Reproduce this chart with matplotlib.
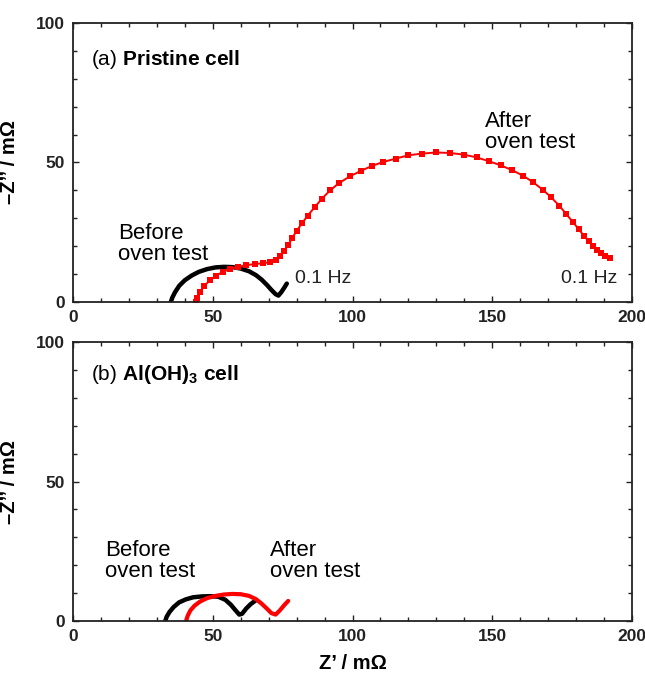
import matplotlib
matplotlib.use("Agg")
import matplotlib.pyplot as plt
from matplotlib.ticker import MultipleLocator

plt.rcParams['font.family'] = ['Liberation Sans', 'DejaVu Sans']
plt.rcParams['mathtext.fontset'] = 'custom'
plt.rcParams['mathtext.rm'] = 'Liberation Sans'
plt.rcParams['mathtext.bf'] = 'Liberation Sans:bold'
plt.rcParams['mathtext.it'] = 'Liberation Sans:italic'

# Panel (a) Pristine cell
before_a_x = [35, 35.5, 36.5, 38, 40, 42.5, 45, 48, 51, 54, 57, 60, 63, 65.5, 67.5, 69.5, 71, 72.5, 73.5, 74.5, 75.5, 76.5]
before_a_y = [0, 1.5, 3.5, 5.8, 7.8, 9.5, 10.8, 11.8, 12.4, 12.6, 12.5, 12, 11, 9.6, 8, 6, 4.3, 2.8, 2.3, 3.5, 5, 6.6]

after_a_x = [44, 44.5, 45.5, 47, 49, 51, 53.5, 56, 59, 62, 65, 68, 70.5, 72.5, 74, 75.5, 77, 78.5, 80, 82,
             84, 86.5, 89, 92, 95, 99, 103, 107, 111, 115.5, 120, 125, 130, 135, 140, 144.5, 149, 153, 157,
             161, 164.5, 168, 171, 174, 176.5, 179, 181, 183, 184.5, 186, 187.5, 189, 190.5, 192]
after_a_y = [0, 1.5, 3.5, 5.8, 7.8, 9.3, 10.8, 11.8, 12.6, 13.2, 13.6, 13.9, 14.3, 15.2, 16.5, 18.2, 20.5, 23, 25.5, 28.3,
             31, 34, 37, 40, 42.5, 45, 47, 48.8, 50.2, 51.4, 52.6, 53.2, 53.6, 53.4, 52.8, 51.8, 50.4, 49, 47.3,
             45.3, 43, 40.3, 37.6, 34.5, 31.5, 28.5, 26, 23.5, 21.7, 20, 18.8, 17.6, 16.6, 15.8]

# Panel (b) Al(OH)3 cell
before_b_x = [33, 33.5, 34.5, 36, 38, 40.5, 43, 46, 49, 52, 54.5, 56.5, 58, 59.5, 60.5, 62, 63.5, 65.5]
before_b_y = [0, 1.5, 3.2, 5, 6.7, 7.8, 8.5, 8.8, 8.9, 8.7, 7.6, 5.8, 4, 2.3, 2.6, 4.5, 6, 7.5]

after_b_x = [40.5, 41, 42, 43.5, 45.5, 48, 51, 54, 57, 60, 63, 65.5, 67.5, 69.5, 71, 72.5, 74, 75.5, 77]
after_b_y = [0, 1.8, 3.8, 5.5, 7, 8.2, 9, 9.5, 9.7, 9.6, 9, 7.8, 6.2, 4.3, 2.8, 2.3, 3.8, 5.6, 7.2]

x_ticks = [0, 50, 100, 150, 200]
y_ticks = [0, 50, 100]

W, H = 645, 673
fig = plt.figure(figsize=(W / 100, H / 100), dpi=100)

left = 73 / W
width = (632 - 73) / W
ah = (302 - 23) / H
ax_a = fig.add_axes([left, 1 - 302 / H, width, ah])
ax_b = fig.add_axes([left, 1 - 621 / H, width, ah])

tick_font = {'family': ['Liberation Sans'], 'weight': 'bold', 'size': 12.5}

for ax in (ax_a, ax_b):
    ax.set_xlim(0, 200)
    ax.set_ylim(0, 100)
    ax.set_xticks(x_ticks)
    ax.set_yticks(y_ticks)
    ax.xaxis.set_minor_locator(MultipleLocator(10))
    ax.yaxis.set_minor_locator(MultipleLocator(10))
    ax.tick_params(which='both', direction='in', top=True, right=True, width=1.0, colors='#222222')
    ax.tick_params(which='major', length=4, pad=6)
    ax.tick_params(which='minor', length=3)
    ax.set_xticklabels([str(v) for v in x_ticks], fontdict=tick_font)
    ax.set_yticklabels([str(v) for v in y_ticks], fontdict=tick_font)
    for s in ax.spines.values():
        s.set_linewidth(1.3)
        s.set_color('#222222')
    ax.set_ylabel('–Z’’ / mΩ', fontsize=14.5, fontweight='bold')
    ax.yaxis.set_label_coords(-0.097, 0.5)

# Panel a
ax_a.plot(before_a_x, before_a_y, color='black', lw=3.2, solid_capstyle='round', solid_joinstyle='round')
ax_a.plot(after_a_x, after_a_y, color='red', lw=1.4, marker='s', markersize=4, markeredgewidth=0)
ax_a.text(6.5, 87, r'(a) $\mathbf{Pristine\ cell}$', fontsize=15, va='center', ha='left')
ax_a.text(16, 13.3, 'Before\noven test', fontsize=16, va='bottom', ha='left', linespacing=1.0)
ax_a.text(147.5, 53.3, 'After\noven test', fontsize=16, va='bottom', ha='left', linespacing=1.0)
ax_a.text(79.5, 8.5, '0.1 Hz', fontsize=14, va='center', ha='left', color='#222222')
ax_a.text(174.5, 8.5, '0.1 Hz', fontsize=14, va='center', ha='left', color='#222222')

# Panel b
ax_b.plot(before_b_x, before_b_y, color='black', lw=3.2, solid_capstyle='round', solid_joinstyle='round')
ax_b.plot(after_b_x, after_b_y, color='red', lw=3.0, solid_capstyle='round', solid_joinstyle='round')
ax_b.text(6.3, 88.5, r'(b) $\mathbf{Al(OH)_3\ cell}$', fontsize=15, va='center', ha='left')
ax_b.text(11.5, 13.8, 'Before\noven test', fontsize=16, va='bottom', ha='left', linespacing=1.0)
ax_b.text(70.5, 13.8, 'After\noven test', fontsize=16, va='bottom', ha='left', linespacing=1.0)
ax_b.set_xlabel('Z’ / mΩ', fontsize=14.5, fontweight='bold')
ax_b.xaxis.set_label_coords(0.5, -0.12)

fig.savefig('out.png', dpi=100)
